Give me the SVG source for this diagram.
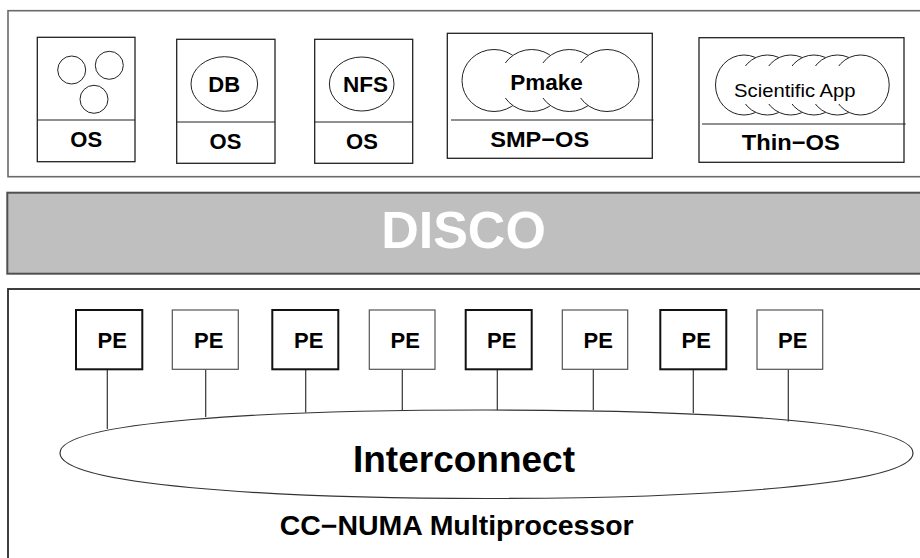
<svg xmlns="http://www.w3.org/2000/svg" width="920" height="558" viewBox="0 0 920 558">
<style>
  .panel{fill:#ffffff;stroke:#6a6a6a;stroke-width:1.6}
  .box{fill:#ffffff;stroke:#222;stroke-width:1.3}
  .div{stroke:#222;stroke-width:1.2;fill:none}
  .app{fill:#ffffff;stroke:#222;stroke-width:1}
  .lb{font-family:"Liberation Sans",Arial,sans-serif;font-weight:bold;fill:#000;text-anchor:middle}
  .pe1{fill:#ffffff;stroke:#111;stroke-width:2}
  .pe2{fill:#ffffff;stroke:#555;stroke-width:1.2}
  .conn{stroke:#333;stroke-width:1.2;fill:none}
</style>

<g id="vm-panel">
  <rect class="panel" x="8" y="10.7" width="1000" height="166"/>
</g>

<g id="vm1">
  <rect class="box" x="37.3" y="37.3" width="97.7" height="124.4"/>
  <line class="div" x1="37.3" y1="120" x2="135" y2="120"/>
  <circle class="app" cx="71.7" cy="70" r="14"/>
  <circle class="app" cx="109.3" cy="65.3" r="14"/>
  <circle class="app" cx="94" cy="99.3" r="14"/>
  <text class="lb" x="86.2" y="146.7" font-size="22">OS</text>
</g>

<g id="vm2">
  <rect class="box" x="176.7" y="39.3" width="98.3" height="124"/>
  <line class="div" x1="176.7" y1="122" x2="275" y2="122"/>
  <ellipse class="app" cx="224.3" cy="84" rx="33.3" ry="27.3"/>
  <text class="lb" x="224.2" y="91.7" font-size="22">DB</text>
  <text class="lb" x="225.5" y="148.7" font-size="22">OS</text>
</g>

<g id="vm3">
  <rect class="box" x="314.7" y="39.3" width="98" height="124"/>
  <line class="div" x1="314.7" y1="122" x2="412.7" y2="122"/>
  <ellipse class="app" cx="361.7" cy="84" rx="32.3" ry="27"/>
  <text class="lb" x="365.5" y="91.7" font-size="22.5">NFS</text>
  <text class="lb" x="362" y="148.7" font-size="22">OS</text>
</g>

<g id="vm4">
  <rect class="box" x="447.3" y="33.3" width="205" height="125"/>
  <line class="div" x1="451" y1="120" x2="653.5" y2="120"/>
  <ellipse class="app" cx="494" cy="80.5" rx="32" ry="31"/>
  <ellipse class="app" cx="531.7" cy="80.5" rx="32" ry="31"/>
  <ellipse class="app" cx="569.3" cy="80.5" rx="32" ry="31"/>
  <ellipse class="app" cx="607" cy="80.5" rx="32" ry="31"/>
  <rect x="490" y="63" width="132" height="35" fill="#ffffff"/>
  <text class="lb" x="546.5" y="90" font-size="22.5">Pmake</text>
  <text class="lb" x="539.7" y="146.7" font-size="22" textLength="99" lengthAdjust="spacingAndGlyphs">SMP−OS</text>
</g>

<g id="vm5">
  <rect class="box" x="699" y="37.7" width="205" height="124.6"/>
  <line class="div" x1="702" y1="124" x2="905.7" y2="124"/>
  <ellipse class="app" cx="744" cy="85" rx="28.5" ry="30"/>
  <ellipse class="app" cx="767.4" cy="85" rx="28.5" ry="30"/>
  <ellipse class="app" cx="790.7" cy="85" rx="28.5" ry="30"/>
  <ellipse class="app" cx="814" cy="85" rx="28.5" ry="30"/>
  <ellipse class="app" cx="837.4" cy="85" rx="28.5" ry="30"/>
  <ellipse class="app" cx="860.7" cy="85" rx="28.5" ry="30"/>
  <rect x="724" y="66" width="156" height="38" fill="#ffffff"/>
  <text x="794.8" y="96.7" font-size="19" font-family="'Liberation Sans',Arial,sans-serif" text-anchor="middle" fill="#000" textLength="121.5" lengthAdjust="spacingAndGlyphs">Scientific App</text>
  <text class="lb" x="790.8" y="150" font-size="22" textLength="98" lengthAdjust="spacingAndGlyphs">Thin−OS</text>
</g>

<g id="disco">
  <rect x="7.3" y="192.7" width="1000" height="81" fill="#bfbfbf" stroke="#505050" stroke-width="2"/>
  <text class="lb" x="463.5" y="247.5" font-size="52" style="fill:#ffffff">DISCO</text>
</g>

<g id="hw-panel">
  <rect x="8" y="289" width="1000" height="300" fill="#ffffff" stroke="#2a2a2a" stroke-width="1.8"/>
  <text class="lb" x="456.7" y="535" font-size="27" textLength="354" lengthAdjust="spacingAndGlyphs">CC−NUMA Multiprocessor</text>
</g>

<g id="interconnect">
  <path d="M60,453 C60,421 270,410 486.5,410 C703,410 913,421 913,453 C913,485 703,498.5 486.5,498.5 C270,498.5 60,485 60,453 Z" fill="#ffffff" stroke="#333" stroke-width="1.2"/>
  <text class="lb" x="464" y="471.7" font-size="36" textLength="222" lengthAdjust="spacingAndGlyphs">Interconnect</text>
</g>

<g id="connectors">
  <line class="conn" x1="107.3" y1="369.3" x2="107.3" y2="429"/>
  <line class="conn" x1="205.7" y1="369.3" x2="205.7" y2="417"/>
  <line class="conn" x1="305.7" y1="369.3" x2="305.7" y2="412.5"/>
  <line class="conn" x1="402.3" y1="369.3" x2="402.3" y2="411"/>
  <line class="conn" x1="497.3" y1="369.3" x2="497.3" y2="410"/>
  <line class="conn" x1="593.3" y1="369.3" x2="593.3" y2="410"/>
  <line class="conn" x1="693.3" y1="369.3" x2="693.3" y2="413"/>
  <line class="conn" x1="788.3" y1="369.3" x2="788.3" y2="421.5"/>
</g>

<g id="pe1"><rect class="pe1" x="76" y="310" width="66.3" height="59.3"/><text class="lb" x="112.2" y="348.3" font-size="22">PE</text></g>
<g id="pe2"><rect class="pe2" x="172.3" y="310" width="66" height="59.3"/><text class="lb" x="208.7" y="348.3" font-size="22">PE</text></g>
<g id="pe3"><rect class="pe1" x="272.3" y="310" width="66" height="59.3"/><text class="lb" x="308.7" y="348.3" font-size="22">PE</text></g>
<g id="pe4"><rect class="pe2" x="369.3" y="310" width="65.7" height="59.3"/><text class="lb" x="405.3" y="348.3" font-size="22">PE</text></g>
<g id="pe5"><rect class="pe1" x="465.7" y="310" width="66" height="59.3"/><text class="lb" x="501.7" y="348.3" font-size="22">PE</text></g>
<g id="pe6"><rect class="pe2" x="562.3" y="310" width="65.4" height="59.3"/><text class="lb" x="598.3" y="348.3" font-size="22">PE</text></g>
<g id="pe7"><rect class="pe1" x="660.3" y="310" width="66" height="59.3"/><text class="lb" x="696.2" y="348.3" font-size="22">PE</text></g>
<g id="pe8"><rect class="pe2" x="757" y="310" width="65.7" height="59.3"/><text class="lb" x="792.8" y="348.3" font-size="22">PE</text></g>
</svg>
